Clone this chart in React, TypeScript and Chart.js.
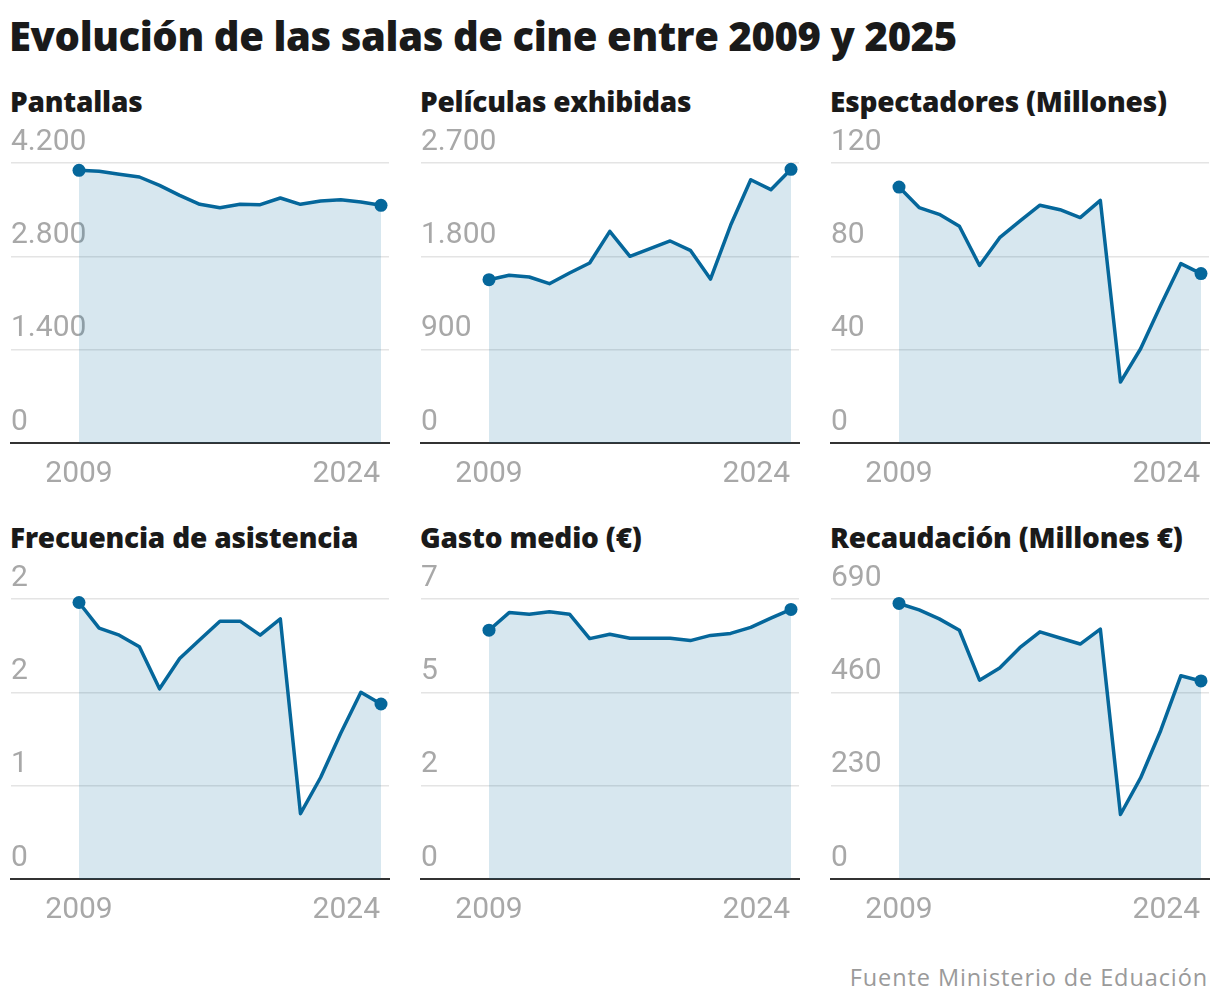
import React, { useEffect, useRef } from "react";
import { Chart, registerables } from "chart.js";

Chart.register(...registerables);

// ---------- Data ----------
const YEARS = [2009, 2010, 2011, 2012, 2013, 2014, 2015, 2016, 2017, 2018, 2019, 2020, 2021, 2022, 2023, 2024];
const X_LABELS = [2009, 2024];

const PANTALLAS = [4090, 4075, 4030, 3990, 3865, 3715, 3580, 3530, 3580, 3575, 3675, 3580, 3630, 3650, 3615, 3565];
const PELICULAS = [1575, 1617, 1601, 1536, 1639, 1736, 2041, 1800, 1874, 1948, 1858, 1581, 2099, 2539, 2443, 2639];
const ESPECTADORES = [109.7, 100.9, 98.0, 92.9, 76.1, 88.0, 95.1, 101.9, 100.0, 96.6, 104.0, 26.1, 40.4, 59.0, 76.9, 72.6];
const FRECUENCIA = [2.37, 2.15, 2.09, 1.99, 1.63, 1.89, 2.05, 2.21, 2.21, 2.09, 2.23, 0.56, 0.87, 1.25, 1.6, 1.5];
const GASTO = [6.22, 6.66, 6.62, 6.68, 6.62, 6.01, 6.12, 6.02, 6.02, 6.02, 5.96, 6.09, 6.14, 6.29, 6.52, 6.74];
const RECAUDACION = [679, 663, 641, 613, 490, 520, 570, 609, 594, 579, 616, 159, 249, 366, 501, 488];

const PANTALLAS_TICKS = [0, 1400, 2800, 4200];
const PELICULAS_TICKS = [0, 900, 1800, 2700];
const ESPECTADORES_TICKS = [0, 40, 80, 120];
const FRECUENCIA_TICKS = [0, 0.8, 1.6, 2.4];
const GASTO_TICKS = [0, 7 / 3, 14 / 3, 7];
const RECAUDACION_TICKS = [0, 230, 460, 690];

const TITLES = [
  "Pantallas",
  "Películas exhibidas",
  "Espectadores (Millones)",
  "Frecuencia de asistencia",
  "Gasto medio (€)",
  "Recaudación (Millones €)",
];

const TITLE = "Evolución de las salas de cine entre 2009 y 2025";
const SOURCE = "Fuente Ministerio de Eduación";

// ---------- Style ----------
const BLUE = "#05679b";
const FILL = "rgba(5,103,155,0.16)";
const GRID = "#e4e4e4";
const TICK = "#a8a8a8";
const FONT = "Roboto, 'Noto Sans', 'Liberation Sans', sans-serif";
const HEAD_FONT = "'Open Sans', Roboto, 'Noto Sans', sans-serif";

const COL_X = [0, 410, 820];
const ROW_Y = [120, 556];
const CANVAS_W = 400;
const CANVAS_H = 380;
const PAD = { left: 11, right: 11, top: 43, bottom: 57 };
const FIRST_INSET = 68; // px from chart-area left to first year
const LAST_INSET = 8; // px from last year to chart-area right

function fmt(v: number): string {
  const r = Math.round(v);
  return String(r).replace(/\B(?=(\d{3})+(?!\d))/g, ".");
}

const xLabelsPlugin = {
  id: "xLabels",
  afterDraw(chart: any) {
    const { ctx, chartArea, scales } = chart;
    ctx.save();
    ctx.font = `400 30px ${FONT}`;
    ctx.fillStyle = TICK;
    ctx.textBaseline = "middle";
    X_LABELS.forEach((yr, i) => {
      const x = scales.x.getPixelForValue(yr);
      ctx.textAlign = i === X_LABELS.length - 1 ? "right" : "center";
      ctx.fillText(String(yr), i === X_LABELS.length - 1 ? x - 1 : x, chartArea.bottom + 31);
    });
    ctx.restore();
  },
};

function Panel({ left, top, values, ticks }: { left: number; top: number; values: number[]; ticks: number[] }) {
  const ref = useRef<HTMLCanvasElement>(null);
  useEffect(() => {
    const areaW = CANVAS_W - PAD.left - PAD.right;
    const span = YEARS[YEARS.length - 1] - YEARS[0];
    const pxPerYear = (areaW - FIRST_INSET - LAST_INSET) / span;
    const xmin = YEARS[0] - FIRST_INSET / pxPerYear;
    const xmax = YEARS[YEARS.length - 1] + LAST_INSET / pxPerYear;
    const ymax = ticks[ticks.length - 1];
    const setTicks = (s: any) => {
      s.ticks = ticks.map((v) => ({ value: v }));
    };
    const last = values.length - 1;
    const chart = new Chart(ref.current as HTMLCanvasElement, {
      type: "line",
      data: {
        labels: YEARS,
        datasets: [
          {
            data: values,
            borderColor: BLUE,
            borderWidth: 3.5,
            backgroundColor: FILL,
            fill: "origin",
            tension: 0,
            borderJoinStyle: "round",
            borderCapStyle: "round",
            pointRadius: (c: any) => (c.dataIndex === 0 || c.dataIndex === last ? 6.5 : 0),
            pointHoverRadius: 0,
            pointBackgroundColor: BLUE,
            pointBorderWidth: 0,
            clip: false,
          } as any,
        ],
      },
      options: {
        responsive: false,
        animation: false,
        events: [],
        layout: { padding: PAD },
        plugins: { legend: { display: false }, tooltip: { enabled: false }, title: { display: false } },
        scales: {
          x: {
            type: "linear",
            min: xmin,
            max: xmax,
            grid: { display: false, drawTicks: false },
            border: { display: true, color: "#333333", width: 2 },
            ticks: { display: false },
          },
          y: {
            type: "linear",
            min: 0,
            max: ymax,
            grid: { color: GRID, lineWidth: 1.5, drawTicks: false },
            border: { display: false },
            ticks: { display: false },
            afterBuildTicks: setTicks,
          },
          yl: {
            type: "linear",
            position: "left",
            min: 0,
            max: ymax,
            z: 1,
            grid: { display: false, drawTicks: false },
            border: { display: false },
            ticks: {
              mirror: true,
              padding: 0,
              labelOffset: -21,
              autoSkip: false,
              color: TICK,
              font: { family: FONT, size: 30, weight: "400" },
              textStrokeColor: "#ffffff",
              textStrokeWidth: 5,
              callback: (v: any) => fmt(Number(v)),
            },
            afterBuildTicks: setTicks,
          },
        } as any,
      },
      plugins: [xLabelsPlugin],
    });
    return () => chart.destroy();
  }, []);
  return (
    <canvas
      ref={ref}
      width={CANVAS_W}
      height={CANVAS_H}
      style={{ position: "absolute", left, top, width: CANVAS_W, height: CANVAS_H }}
    />
  );
}

export default function App() {
  const series = [PANTALLAS, PELICULAS, ESPECTADORES, FRECUENCIA, GASTO, RECAUDACION];
  const tickSets = [PANTALLAS_TICKS, PELICULAS_TICKS, ESPECTADORES_TICKS, FRECUENCIA_TICKS, GASTO_TICKS, RECAUDACION_TICKS];
  return (
    <div style={{ position: "absolute", left: 0, top: 0, width: 1220, height: 1006, background: "#fff", fontFamily: FONT }}>
      <div
        style={{
          position: "absolute",
          left: 9,
          top: 16,
          fontFamily: HEAD_FONT,
          fontSize: 40,
          lineHeight: "40px",
          fontWeight: 800,
          color: "#1a1a1a",
          whiteSpace: "nowrap",
          letterSpacing: -0.4,
        }}
      >
        {TITLE}
      </div>
      {series.map((vals, i) => {
        const col = i % 3;
        const row = Math.floor(i / 3);
        return (
          <React.Fragment key={i}>
            <div
              style={{
                position: "absolute",
                left: COL_X[col] + 10,
                top: ROW_Y[row] - 33,
                fontFamily: HEAD_FONT,
                fontSize: 28,
                lineHeight: "28px",
                fontWeight: 800,
                color: "#1a1a1a",
                whiteSpace: "nowrap",
                letterSpacing: -0.2,
              }}
            >
              {TITLES[i]}
            </div>
            <Panel left={COL_X[col]} top={ROW_Y[row]} values={vals} ticks={tickSets[i]} />
          </React.Fragment>
        );
      })}
      <div
        style={{
          position: "absolute",
          right: 12,
          top: 966,
          fontFamily: HEAD_FONT,
          fontSize: 23.5,
          lineHeight: "23.5px",
          fontWeight: 400,
          color: "#9a9a9a",
          whiteSpace: "nowrap",
          letterSpacing: 0.9,
        }}
      >
        {SOURCE}
      </div>
    </div>
  );
}
